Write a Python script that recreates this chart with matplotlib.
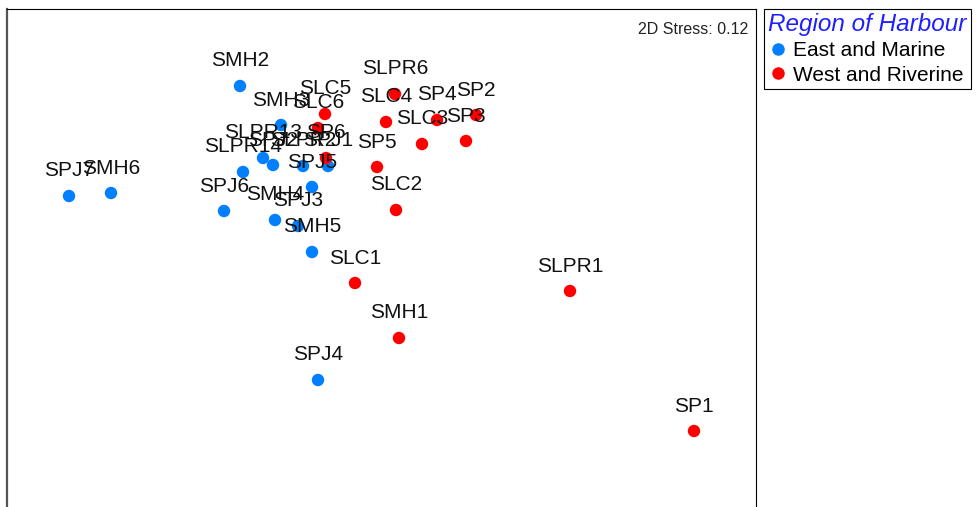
import matplotlib
matplotlib.use("Agg")
import matplotlib.pyplot as plt
from matplotlib.lines import Line2D

plt.rcParams["font.family"] = ["Liberation Sans", "DejaVu Sans"]

# ---------------------------------------------------------------
# nMDS ordination coordinates
# ---------------------------------------------------------------
east_labels = ["SPJ7", "SMH6", "SMH2", "SMH3", "SLPR13", "SPJ2", "SLPR14", "SLPR2",
               "SPJ1", "SPJ5", "SPJ6", "SMH4", "SPJ3", "SMH5", "SPJ4"]
east_x = [-1.655, -1.445, -0.80, -0.595, -0.685, -0.635, -0.785, -0.485,
          -0.36, -0.44, -0.88, -0.625, -0.51, -0.44, -0.41]
east_y = [0.27, 0.285, 0.82, 0.625, 0.46, 0.425, 0.39, 0.42,
          0.42, 0.315, 0.195, 0.15, 0.12, -0.01, -0.65]

west_labels = ["SLPR6", "SLC4", "SP4", "SP2", "SLC3", "SP3", "SP5", "SLC2",
               "SLC5", "SLC6", "SP6", "SLC1", "SMH1", "SLPR1", "SP1"]
west_x = [-0.025, -0.07, 0.185, 0.38, 0.11, 0.33, -0.115, -0.02,
          -0.375, -0.41, -0.37, -0.225, -0.005, 0.85, 1.47]
west_y = [0.78, 0.64, 0.65, 0.675, 0.53, 0.545, 0.415, 0.20,
          0.68, 0.61, 0.46, -0.165, -0.44, -0.205, -0.905]

stress = 0.12
blue = "#0080FF"
red = "#FF0000"

W, H = 979, 507
fig = plt.figure(figsize=(W / 100, H / 100), dpi=100)
# axes bottom runs off the figure, as in the original crop
ax = fig.add_axes([7 / W, -13 / H, 749 / W, (507 - 9 + 13) / H])

ax.scatter(east_x, east_y, s=80, color=blue, edgecolors="none", zorder=3)
ax.scatter(west_x, west_y, s=80, color=red, edgecolors="none", zorder=3)

for lab, x, y in zip(east_labels + west_labels, east_x + west_x, east_y + west_y):
    ax.annotate(lab, (x, y), xytext=(0, 18), textcoords="offset points",
                ha="center", va="center", fontsize=15, color="#111111", zorder=4)

ax.set_xlim(-1.965, 1.78)
ax.set_ylim(-1.35, 1.205)
ax.set_xticks([])
ax.set_yticks([])
ax.spines["bottom"].set_visible(False)
ax.spines["left"].set_color("#555555")
ax.spines["left"].set_linewidth(1.6)
for s in ("top", "right"):
    ax.spines[s].set_color("black")
    ax.spines[s].set_linewidth(0.8)

ax.text(0.99, 0.975, f"2D Stress: {stress}", transform=ax.transAxes,
        ha="right", va="top", fontsize=11.5, color="#222222")

handles = [
    Line2D([], [], marker="o", linestyle="none", markersize=9,
           markerfacecolor=blue, markeredgecolor="none", label="East and Marine"),
    Line2D([], [], marker="o", linestyle="none", markersize=9,
           markerfacecolor=red, markeredgecolor="none", label="West and Riverine"),
]
leg = fig.legend(handles=handles, loc="upper left",
                 bbox_to_anchor=(764 / W, 1 - 9 / H), borderaxespad=0,
                 title="Region of Harbour", fontsize=15, fancybox=False,
                 edgecolor="black", framealpha=1, handletextpad=0.3,
                 handlelength=0.9, borderpad=0.2, labelspacing=0.25,
                 alignment="left")
leg.get_title().set_fontsize(17.5)
leg.get_title().set_color("#2020FF")
leg.get_title().set_style("italic")
leg.get_frame().set_linewidth(0.8)

fig.savefig("out.png", dpi=100)
